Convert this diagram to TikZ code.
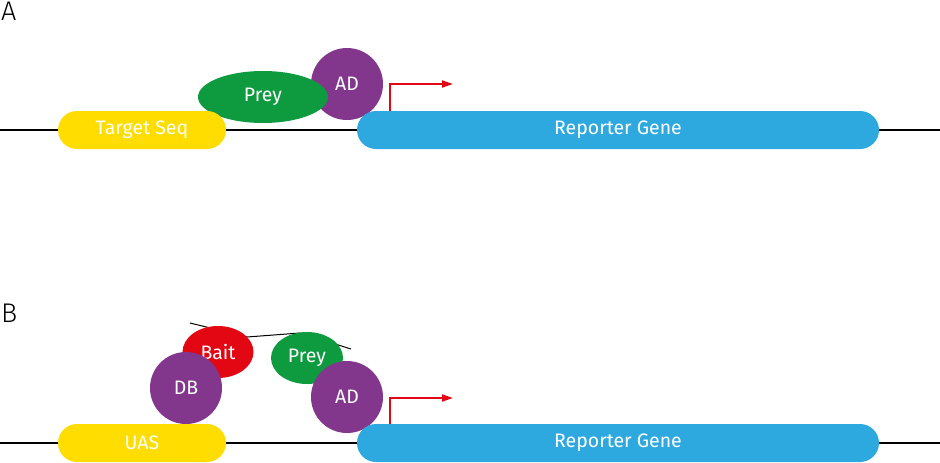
\documentclass[tikz,border=0pt]{standalone}
\usepackage{fontspec}
\setmainfont{Fira Sans}
\newfontfamily\panelfont{Fira Sans Light}
\usetikzlibrary{shapes.geometric,arrows.meta}
\definecolor{cyel}{HTML}{FFDD00}
\definecolor{cblue}{HTML}{2EA9E0}
\definecolor{cgreen}{HTML}{0E9A3E}
\definecolor{cpurp}{HTML}{82368C}
\definecolor{cred}{HTML}{E30613}
\tikzset{
  lbl/.style={text=white,font=\fontsize{19.5}{22}\selectfont},
  pill/.style={lbl,rounded corners=19pt,minimum height=38pt,inner sep=0pt,draw=none},
  blob/.style={lbl,ellipse,inner sep=0pt,draw=none},
  dna/.style={line width=2pt,black},
  tss/.style={line width=2pt,cred,-{Triangle[length=11pt,width=7pt]}},
  panel/.style={font=\panelfont\fontsize{27}{30}\selectfont,anchor=north west,inner sep=0pt}
}
\begin{document}
\begin{tikzpicture}[x=1pt,y=-1pt]
\useasboundingbox (0,0) rectangle (940,463);
% Panel A
\node[panel] (lA) at (1,2) {A};
\coordinate (a0) at (0,130);
\coordinate (a1) at (940,130);
\draw[dna] (a0) -- (a1);
\node[blob,fill=cpurp,minimum width=72pt,minimum height=72pt] (adA) at (347,84) {AD};
\node[blob,fill=cgreen,minimum width=130pt,minimum height=52pt] (preyA) at (263,97) {Prey};
\node[pill,fill=cyel,minimum width=168pt] (tsA) at (142,130) {Target Seq};
\node[pill,fill=cblue,minimum width=522pt] (rgA) at (618,130) {Reporter Gene};
\coordinate (tA1) at (390,84);
\coordinate (tA2) at (453,84);
\draw[tss] (rgA.north -| tA1) -- (tA1) -- (tA2);
% Panel B
\node[panel] (lB) at (1,304) {B};
\coordinate (b0) at (0,443);
\coordinate (b1) at (940,443);
\draw[dna] (b0) -- (b1);
\coordinate (k1) at (190,323);
\coordinate (k2) at (247,337);
\coordinate (k3) at (300,333);
\coordinate (k4) at (351,349);
\draw[black,line width=1pt] (k1) -- (k2) -- (k3) -- (k4);
\node[blob,fill=cred,minimum width=71pt,minimum height=52pt] (bait) at (218,352) {Bait};
\node[blob,fill=cgreen,minimum width=72pt,minimum height=52pt] (preyB) at (307,358) {Prey};
\node[blob,fill=cpurp,minimum width=72pt,minimum height=72pt] (db) at (186,388) {DB};
\node[blob,fill=cpurp,minimum width=72pt,minimum height=72pt] (adB) at (347,397) {AD};
\node[pill,fill=cyel,minimum width=168pt] (uas) at (142,443) {UAS};
\node[pill,fill=cblue,minimum width=522pt] (rgB) at (618,443) {Reporter Gene};
\coordinate (tB1) at (390,398);
\coordinate (tB2) at (453,398);
\draw[tss] (rgB.north -| tB1) -- (tB1) -- (tB2);
\end{tikzpicture}
\end{document}
